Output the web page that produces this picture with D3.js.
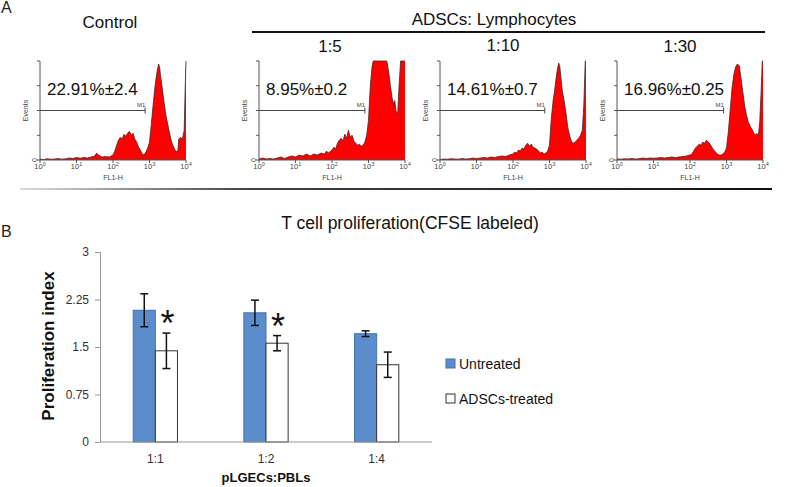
<!DOCTYPE html>
<html><head><meta charset="utf-8">
<script src="https://cdn.jsdelivr.net/npm/d3@7"></script>
<style>body{margin:0;background:#fff} svg{display:block} text{font-family:"Liberation Sans",Arial,sans-serif}</style>
</head><body><svg id="c" width="788" height="487"></svg>
<script>
// ---------- Panel A data (flow cytometry histograms, x = log10 FL1-H, y = fraction of axis height) ----------
const histTitles = ["Control", "1:5", "1:10", "1:30"];
const histPercent = ["22.91%\u00b12.4", "8.95%\u00b10.2", "14.61%\u00b10.7", "16.96%\u00b10.25"];
const histDecadeLabels = ["0", "1", "2", "3", "4"];
const histControl = [[0,0.01],[0.1,0.005],[0.2,0.012],[0.3,0.008],[0.4,0.01],[0.5,0.015],[0.6,0.008],[0.7,0.012],[0.8,0.02],[0.9,0.015],[1.0,0.025],[1.1,0.018],[1.2,0.025],[1.3,0.02],[1.4,0.03],[1.5,0.04],[1.55,0.07],[1.6,0.05],[1.7,0.03],[1.8,0.035],[1.9,0.03],[2.0,0.05],[2.05,0.09],[2.1,0.15],[2.15,0.2],[2.2,0.23],[2.25,0.21],[2.3,0.26],[2.35,0.24],[2.4,0.27],[2.45,0.29],[2.5,0.25],[2.55,0.27],[2.6,0.21],[2.65,0.18],[2.7,0.13],[2.75,0.1],[2.8,0.06],[2.85,0.05],[2.9,0.08],[2.95,0.12],[3.0,0.18],[3.05,0.36],[3.1,0.56],[3.15,0.74],[3.2,0.88],[3.25,0.97],[3.28,0.93],[3.3,0.86],[3.35,0.72],[3.4,0.58],[3.45,0.45],[3.5,0.36],[3.55,0.27],[3.6,0.19],[3.65,0.14],[3.7,0.1],[3.75,0.08],[3.78,0.1],[3.8,0.21],[3.85,0.23],[3.9,0.21],[3.95,0.3],[3.98,0.75],[4.0,1.0]];
const hist1to5 = [[0,0.01],[0.1,0.02],[0.2,0.01],[0.3,0.015],[0.4,0.01],[0.5,0.02],[0.6,0.03],[0.7,0.015],[0.8,0.03],[0.9,0.04],[1.0,0.03],[1.1,0.05],[1.2,0.04],[1.3,0.06],[1.4,0.04],[1.5,0.06],[1.6,0.05],[1.7,0.07],[1.8,0.06],[1.85,0.09],[1.9,0.07],[2.0,0.1],[2.05,0.13],[2.1,0.11],[2.15,0.17],[2.2,0.2],[2.25,0.22],[2.3,0.19],[2.35,0.26],[2.4,0.22],[2.45,0.3],[2.5,0.23],[2.55,0.25],[2.6,0.19],[2.65,0.17],[2.7,0.15],[2.75,0.16],[2.8,0.14],[2.85,0.15],[2.9,0.18],[2.95,0.25],[3.0,0.4],[3.05,0.75],[3.1,0.95],[3.13,1.0],[3.5,1.0],[3.55,0.9],[3.6,0.75],[3.65,0.62],[3.7,0.55],[3.72,0.6],[3.75,0.5],[3.8,0.46],[3.83,0.7],[3.88,1.0],[4.0,1.0]];
const hist1to10 = [[0,0.005],[0.1,0.01],[0.2,0.008],[0.3,0.012],[0.4,0.01],[0.5,0.008],[0.6,0.015],[0.7,0.01],[0.8,0.012],[0.9,0.02],[1.0,0.015],[1.1,0.02],[1.2,0.025],[1.3,0.02],[1.4,0.03],[1.5,0.025],[1.6,0.035],[1.7,0.04],[1.8,0.035],[1.9,0.05],[2.0,0.06],[2.05,0.08],[2.1,0.07],[2.15,0.1],[2.2,0.09],[2.25,0.12],[2.3,0.11],[2.35,0.15],[2.4,0.17],[2.45,0.14],[2.5,0.16],[2.55,0.13],[2.6,0.12],[2.65,0.11],[2.7,0.09],[2.75,0.07],[2.8,0.08],[2.85,0.06],[2.9,0.07],[2.95,0.09],[3.0,0.15],[3.05,0.42],[3.1,0.6],[3.15,0.73],[3.2,0.88],[3.25,0.98],[3.28,0.95],[3.3,0.88],[3.35,0.7],[3.4,0.6],[3.45,0.48],[3.5,0.33],[3.55,0.25],[3.6,0.19],[3.65,0.17],[3.7,0.18],[3.75,0.2],[3.8,0.22],[3.85,0.25],[3.9,0.3],[3.94,0.55],[3.98,1.0],[4.0,1.0]];
const hist1to30 = [[0,0.01],[0.1,0.008],[0.2,0.012],[0.3,0.01],[0.4,0.015],[0.5,0.01],[0.6,0.012],[0.7,0.02],[0.8,0.015],[0.9,0.02],[1.0,0.018],[1.1,0.02],[1.2,0.025],[1.3,0.02],[1.4,0.025],[1.5,0.03],[1.6,0.025],[1.7,0.03],[1.8,0.035],[1.9,0.04],[2.0,0.05],[2.05,0.06],[2.1,0.09],[2.15,0.12],[2.2,0.14],[2.25,0.16],[2.3,0.15],[2.35,0.18],[2.4,0.17],[2.45,0.2],[2.5,0.18],[2.55,0.16],[2.6,0.13],[2.65,0.1],[2.7,0.08],[2.75,0.06],[2.8,0.05],[2.85,0.05],[2.9,0.06],[2.95,0.08],[3.0,0.12],[3.05,0.28],[3.1,0.5],[3.15,0.72],[3.2,0.86],[3.25,0.94],[3.3,0.97],[3.35,0.95],[3.4,0.82],[3.45,0.68],[3.5,0.54],[3.55,0.45],[3.6,0.38],[3.65,0.34],[3.7,0.31],[3.75,0.27],[3.8,0.25],[3.83,0.27],[3.87,0.24],[3.91,0.38],[3.95,0.7],[3.98,1.0],[4.0,1.0]];
const histSeries = [histControl, hist1to5, hist1to10, hist1to30];
const gateEnd = [2.88, 2.9, 2.87, 2.92];

// ---------- Panel B data ----------
const categories = ["1:1", "1:2", "1:4"];
const seriesNames = ["Untreated", "ADSCs-treated"];
const untreated = [2.08, 2.04, 1.71];
const untreatedErr = [0.26, 0.2, 0.045];
const treated = [1.44, 1.56, 1.22];
const treatedErr = [0.28, 0.12, 0.2];
const significant = [true, true, false];
const yTicks = [0, 0.75, 1.5, 2.25, 3];
const yTickLabels = ["0", "0.75", "1.5", "2.25", "3"];

const svg = d3.select("#c");
const FONT = '"Liberation Sans",Arial,sans-serif';

// ===== Panel A =====
svg.append("text").attr("x", 1).attr("y", 13).attr("font-size", 16).attr("fill", "#222").text("A");
svg.append("text").attr("x", 494).attr("y", 25).attr("text-anchor", "middle").attr("font-size", 17).attr("fill", "#111").text("ADSCs: Lymphocytes");
svg.append("line").attr("x1", 252).attr("x2", 765).attr("y1", 32).attr("y2", 32).attr("stroke", "#111").attr("stroke-width", 2);

const panelLeft = [40, 259, 440, 617];
const panelW = 146, plotTop = 61, plotBottom = 160;
const titleX = [110, 330, 503, 680];
const titleY = [28, 52, 51, 52];

histSeries.forEach((data, i) => {
  const x = d3.scaleLinear().domain([0, 4]).range([panelLeft[i], panelLeft[i] + panelW]);
  const y = d3.scaleLinear().domain([0, 1]).range([plotBottom, plotTop]).clamp(true);
  const g = svg.append("g");
  g.append("text").attr("x", titleX[i]).attr("y", titleY[i]).attr("text-anchor", "middle")
    .attr("font-size", 17).attr("fill", "#111").text(histTitles[i]);
  const area = d3.area().x(d => x(d[0])).y0(plotBottom).y1(d => y(d[1]));
  const line = d3.line().x(d => x(d[0])).y(d => y(d[1]));
  g.append("path").datum(data).attr("d", area).attr("fill", "#ff0000");
  g.append("path").datum(data).attr("d", line).attr("fill", "none").attr("stroke", "#3a2a2a").attr("stroke-width", 0.8);
  const ax = "#555";
  g.append("line").attr("x1", x(0)).attr("x2", x(0)).attr("y1", plotTop).attr("y2", plotBottom).attr("stroke", ax).attr("stroke-width", 1);
  g.append("line").attr("x1", x(0)).attr("x2", x(4)).attr("y1", plotBottom).attr("y2", plotBottom).attr("stroke", ax).attr("stroke-width", 1);
  [0, 0.25, 0.5, 0.75, 1].forEach(t => {
    g.append("line").attr("x1", x(0) - 3).attr("x2", x(0)).attr("y1", y(t)).attr("y2", y(t)).attr("stroke", ax);
  });
  histDecadeLabels.forEach(lab => {
    const xx = x(+lab);
    g.append("line").attr("x1", xx).attr("x2", xx).attr("y1", plotBottom).attr("y2", plotBottom + 3).attr("stroke", ax);
    const t = g.append("text").attr("x", xx).attr("y", 169).attr("text-anchor", "middle").attr("font-size", 7.5).attr("fill", "#444");
    t.append("tspan").text("10");
    t.append("tspan").attr("dy", -3).attr("font-size", 5.5).text(lab);
  });
  g.append("text").attr("x", x(2)).attr("y", 180).attr("text-anchor", "middle").attr("font-size", 7).attr("fill", "#444").text("FL1-H");
  g.append("text").attr("transform", `translate(${x(0) - 12},${(plotTop + plotBottom) / 2}) rotate(-90)`).attr("text-anchor", "middle").attr("font-size", 7).attr("fill", "#444").text("Events");
  g.append("text").attr("transform", `translate(${x(0) - 3},${plotBottom}) rotate(-90)`).attr("text-anchor", "middle").attr("font-size", 7).attr("fill", "#444").text("0");
  const gy = (plotTop + plotBottom) / 2;
  g.append("line").attr("x1", x(0)).attr("x2", x(gateEnd[i])).attr("y1", gy).attr("y2", gy).attr("stroke", "#444").attr("stroke-width", 1);
  g.append("line").attr("x1", x(gateEnd[i])).attr("x2", x(gateEnd[i])).attr("y1", gy - 3).attr("y2", gy + 3).attr("stroke", "#444");
  g.append("text").attr("x", x(gateEnd[i]) - 4).attr("y", gy - 4).attr("text-anchor", "middle").attr("font-size", 6).attr("fill", "#444").text("M1");
  g.append("text").attr("x", x(0) + 7).attr("y", 95).attr("font-size", 17).attr("fill", "#111").text(histPercent[i]);
});

const defs = svg.append("defs");
const grad = defs.append("linearGradient").attr("id", "sep").attr("x1", "0").attr("x2", "1").attr("y1", "0").attr("y2", "0");
grad.append("stop").attr("offset", "0").attr("stop-color", "#ddd");
grad.append("stop").attr("offset", "0.3").attr("stop-color", "#444");
grad.append("stop").attr("offset", "1").attr("stop-color", "#111");
svg.append("rect").attr("x", 20).attr("y", 188).attr("width", 752).attr("height", 2).attr("fill", "url(#sep)");

// ===== Panel B =====
svg.append("text").attr("x", 1).attr("y", 237).attr("font-size", 16).attr("fill", "#222").text("B");
svg.append("text").attr("x", 410).attr("y", 229).attr("text-anchor", "middle").attr("font-size", 17.5).attr("fill", "#111").text("T cell proliferation(CFSE labeled)");

const x0 = d3.scaleBand().domain(categories).range([100, 432]).paddingInner(0.6).paddingOuter(0.3);
const x1 = d3.scaleBand().domain(seriesNames).range([0, x0.bandwidth()]);
const yB = d3.scaleLinear().domain([0, 3]).range([442, 252]);
const colors = d3.scaleOrdinal().domain(seriesNames).range(["#5b8ccb", "#ffffff"]);
const strokes = d3.scaleOrdinal().domain(seriesNames).range(["#4272ab", "#333333"]);

const yAxis = d3.axisLeft(yB).tickValues(yTicks).tickFormat((d, i) => yTickLabels[i]).tickSize(5).tickPadding(6);
const yg = svg.append("g").attr("transform", "translate(100,0)").call(yAxis);
yg.select(".domain").attr("stroke", "#999");
yg.selectAll(".tick line").attr("stroke", "#999");
yg.selectAll(".tick text").attr("font-size", 12).attr("fill", "#333").attr("font-family", FONT);

const rows = categories.map((c, i) => ({ c, vals: [
  { s: seriesNames[0], v: untreated[i], e: untreatedErr[i] },
  { s: seriesNames[1], v: treated[i], e: treatedErr[i] }] }));

const grp = svg.append("g").selectAll("g").data(rows).join("g").attr("transform", d => `translate(${x0(d.c)},0)`);
grp.selectAll("rect").data(d => d.vals).join("rect")
  .attr("x", d => x1(d.s)).attr("width", x1.bandwidth())
  .attr("y", d => yB(d.v)).attr("height", d => yB(0) - yB(d.v))
  .attr("fill", d => colors(d.s)).attr("stroke", d => strokes(d.s)).attr("stroke-width", 1);
grp.selectAll("g.err").data(d => d.vals).join("g").attr("class", "err").each(function (d) {
  const cx = x1(d.s) + x1.bandwidth() / 2;
  const g = d3.select(this);
  g.append("line").attr("x1", cx).attr("x2", cx).attr("y1", yB(d.v + d.e)).attr("y2", yB(d.v - d.e)).attr("stroke", "#111").attr("stroke-width", 1.5);
  [d.v + d.e, d.v - d.e].forEach(v => g.append("line").attr("x1", cx - 4).attr("x2", cx + 4).attr("y1", yB(v)).attr("y2", yB(v)).attr("stroke", "#111").attr("stroke-width", 1.5));
});
rows.forEach((r, i) => {
  if (!significant[i]) return;
  const cx = x0(r.c) + x1(seriesNames[1]) + x1.bandwidth() / 2 + 1;
  svg.append("text").attr("x", cx).attr("y", yB(treated[i] + treatedErr[i]) + 3).attr("text-anchor", "middle")
    .attr("font-size", 36).attr("fill", "#111").text("*");
});

svg.append("line").attr("x1", 100).attr("x2", 432).attr("y1", yB(0)).attr("y2", yB(0)).attr("stroke", "#999");
categories.forEach(c => {
  svg.append("text").attr("x", x0(c) + x0.bandwidth() / 2).attr("y", 463).attr("text-anchor", "middle").attr("font-size", 12).attr("fill", "#333").text(c);
});
svg.append("text").attr("x", 266).attr("y", 482).attr("text-anchor", "middle").attr("font-size", 13).attr("font-weight", "bold").attr("fill", "#111").text("pLGECs:PBLs");
svg.append("text").attr("transform", "translate(54,346) rotate(-90)").attr("text-anchor", "middle").attr("font-size", 17).attr("font-weight", "bold").attr("fill", "#111").text("Proliferation index");

seriesNames.forEach((s, i) => {
  const ly = 359 + i * 35;
  svg.append("rect").attr("x", 446).attr("y", ly).attr("width", 9).attr("height", 9).attr("fill", colors(s)).attr("stroke", strokes(s));
  svg.append("text").attr("x", 459).attr("y", ly + 10).attr("font-size", 14).attr("fill", "#111").text(s);
});
</script></body></html>
